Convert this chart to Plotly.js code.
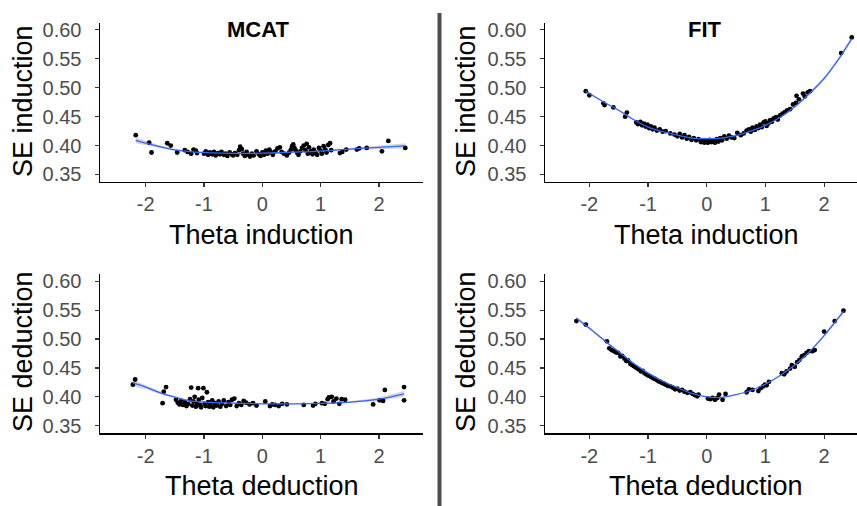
<!DOCTYPE html>
<html>
<head>
<meta charset="utf-8">
<script src="https://cdn.plot.ly/plotly-3.0.1.min.js"></script>
<style>html,body{margin:0;padding:0;background:#fff;}#chart{width:857px;height:506px;}</style>
</head>
<body>
<div id="chart"></div>
<script>
// ---------- Data ----------
const panelTitles = ["MCAT", "FIT"];
const xTitles = ["Theta induction", "Theta deduction"];
const yTitles = ["SE induction", "SE deduction"];
const xTickVals = [-2, -1, 0, 1, 2];
const xTickText = ["-2", "-1", "0", "1", "2"];
const yTickVals = [0.35, 0.40, 0.45, 0.50, 0.55, 0.60];
const yTickText = ["0.35", "0.40", "0.45", "0.50", "0.55", "0.60"];

// MCAT induction
const mcatIndX = [-2.17,-1.94,-1.90,-1.63,-1.57,-1.46,-1.33,-1.28,-1.22,-1.18,-1.14,-1.12,
 -1.00,-0.97,-0.93,-0.90,-0.86,-0.83,-0.80,-0.76,-0.73,-0.70,-0.66,-0.63,-0.60,-0.56,-0.53,-0.50,-0.47,-0.43,-0.40,-0.38,-0.35,-0.33,-0.30,-0.27,-0.24,-0.21,-0.18,-0.15,-0.10,-0.06,-0.03,0.00,0.03,0.06,0.09,0.12,0.15,0.18,0.22,0.26,0.30,0.33,0.37,0.42,0.46,0.49,0.51,0.53,0.55,0.57,0.60,0.62,0.65,0.68,0.71,0.74,0.76,0.78,0.80,0.83,0.86,0.88,0.91,0.94,0.97,1.00,1.02,1.05,1.08,1.10,1.13,1.16,1.18,
 1.33,1.37,1.44,1.62,1.66,1.79,2.05,2.16,2.45];
const mcatIndY = [0.418,0.405,0.388,0.404,0.400,0.388,0.392,0.389,0.386,0.393,0.391,0.387,
 0.386,0.390,0.384,0.388,0.385,0.389,0.383,0.387,0.385,0.389,0.384,0.386,0.382,0.388,0.385,0.383,0.387,0.384,0.392,0.398,0.394,0.386,0.382,0.389,0.384,0.381,0.386,0.383,0.390,0.385,0.382,0.388,0.384,0.391,0.386,0.393,0.388,0.384,0.390,0.395,0.397,0.389,0.386,0.383,0.388,0.393,0.399,0.402,0.396,0.392,0.387,0.384,0.390,0.396,0.400,0.392,0.403,0.386,0.397,0.390,0.385,0.393,0.388,0.384,0.396,0.391,0.386,0.399,0.393,0.388,0.401,0.404,0.392,
 0.387,0.389,0.393,0.393,0.395,0.396,0.390,0.408,0.396];
const mcatIndFitX = [-2.17,-1.8,-1.5,-1.2,-0.9,-0.5,0,0.5,1.0,1.5,2.0,2.45];
const mcatIndFitY = [0.409,0.399,0.3925,0.389,0.3875,0.3866,0.3868,0.3885,0.3905,0.394,0.397,0.3995];
const mcatIndFitLo = [0.404,0.396,0.3905,0.3878,0.3865,0.3858,0.386,0.3877,0.3895,0.392,0.394,0.395];
const mcatIndFitHi = [0.414,0.402,0.3945,0.3902,0.3885,0.3874,0.3876,0.3893,0.3915,0.396,0.400,0.404];

// FIT induction
const fitIndX = [-2.06,-2.00,-1.76,-1.74,-1.59,-1.39,-1.36,-1.20,-1.17,-1.13,-1.10,-1.07,-1.04,-1.01,-0.98,-0.95,-0.92,-0.89,-0.85,-0.80,-0.75,-0.70,-0.62,-0.55,-0.50,-0.46,-0.42,-0.38,-0.34,-0.30,-0.26,-0.22,-0.18,-0.14,-0.10,-0.07,-0.04,-0.01,0.02,0.05,0.08,0.11,0.14,0.17,0.20,0.23,0.26,0.30,0.34,0.38,0.42,0.47,0.52,0.58,0.63,0.68,0.72,0.75,0.78,0.82,0.85,0.88,0.91,0.94,0.97,1.00,1.02,1.05,1.08,1.11,1.14,1.18,1.21,1.25,1.29,1.33,1.37,1.42,1.47,1.52,1.53,1.57,1.64,1.67,1.72,1.76,2.29,2.47];
const fitIndY = [0.494,0.487,0.473,0.470,0.466,0.450,0.457,0.440,0.437,0.441,0.435,0.438,0.433,0.436,0.430,0.433,0.428,0.431,0.426,0.428,0.424,0.425,0.421,0.419,0.416,0.420,0.414,0.418,0.412,0.415,0.410,0.413,0.409,0.411,0.406,0.409,0.405,0.408,0.405,0.410,0.406,0.409,0.405,0.411,0.407,0.413,0.409,0.416,0.412,0.417,0.414,0.413,0.422,0.418,0.421,0.426,0.428,0.424,0.431,0.427,0.433,0.430,0.436,0.432,0.440,0.442,0.434,0.438,0.444,0.441,0.447,0.449,0.445,0.452,0.455,0.458,0.461,0.463,0.471,0.474,0.486,0.480,0.490,0.485,0.492,0.494,0.560,0.587];
const fitIndFitX = [-2.06,-2.0,-1.75,-1.5,-1.25,-1.0,-0.75,-0.5,-0.25,0,0.25,0.5,0.75,1.0,1.25,1.5,1.75,2.0,2.25,2.47];
const fitIndFitY = [0.494,0.490,0.475,0.461,0.445,0.432,0.424,0.418,0.413,0.412,0.413,0.417,0.425,0.435,0.449,0.467,0.490,0.516,0.550,0.585];
const fitIndFitLo = [0.492,0.488,0.474,0.460,0.444,0.4315,0.4235,0.4175,0.4126,0.4116,0.4126,0.4166,0.4245,0.4345,0.4485,0.466,0.488,0.514,0.547,0.581];
const fitIndFitHi = [0.496,0.492,0.476,0.462,0.446,0.4325,0.4245,0.4185,0.4134,0.4124,0.4134,0.4174,0.4255,0.4355,0.4495,0.468,0.492,0.518,0.553,0.589];

// MCAT deduction
const mcatDedX = [-2.22,-2.18,-1.71,-1.69,-1.65,
 -1.48,-1.45,-1.42,-1.39,-1.36,-1.33,-1.30,-1.27,-1.24,-1.22,-1.20,-1.18,-1.16,-1.14,-1.12,-1.10,-1.09,-1.07,-1.05,-1.03,-1.01,-0.99,-0.97,-0.95,-0.93,-0.91,-0.89,-0.86,-0.84,-0.81,-0.78,-0.75,-0.72,-0.69,-0.66,-0.62,-0.58,-0.55,-0.52,-0.48,-0.44,-0.40,-0.36,-0.32,-0.28,-0.22,-0.16,-0.10,
 0.05,0.13,0.17,0.22,0.28,0.34,0.42,0.71,0.87,0.91,1.02,1.07,1.12,1.14,1.19,1.22,1.27,1.32,1.36,1.42,1.90,2.01,2.07,2.10,2.43,2.43];
const mcatDedY = [0.421,0.430,0.389,0.409,0.417,
 0.395,0.390,0.387,0.393,0.386,0.391,0.384,0.388,0.396,0.416,0.385,0.392,0.400,0.383,0.389,0.415,0.395,0.386,0.382,0.398,0.415,0.388,0.384,0.408,0.391,0.383,0.387,0.394,0.382,0.389,0.385,0.392,0.383,0.388,0.394,0.384,0.391,0.386,0.395,0.397,0.384,0.389,0.386,0.393,0.390,0.387,0.389,0.385,
 0.392,0.384,0.387,0.386,0.384,0.388,0.387,0.386,0.385,0.388,0.389,0.388,0.396,0.399,0.400,0.392,0.397,0.388,0.396,0.395,0.387,0.394,0.393,0.412,0.417,0.394];
const mcatDedFitX = [-2.22,-2.0,-1.75,-1.5,-1.25,-1.0,-0.5,0,0.5,1.0,1.5,2.0,2.43];
const mcatDedFitY = [0.424,0.417,0.407,0.3995,0.393,0.391,0.389,0.388,0.388,0.3887,0.391,0.396,0.405];
const mcatDedFitLo = [0.418,0.413,0.4045,0.398,0.392,0.3902,0.3882,0.3872,0.3871,0.3877,0.3895,0.393,0.400];
const mcatDedFitHi = [0.430,0.421,0.4095,0.401,0.394,0.3918,0.3898,0.3888,0.3889,0.3897,0.3925,0.399,0.410];

// FIT deduction
const fitDedX = [-2.22,-2.06,-1.70,-1.66,-1.62,-1.58,-1.55,-1.51,-1.47,-1.44,-1.40,-1.37,-1.34,-1.30,-1.27,-1.24,-1.21,-1.18,-1.15,-1.12,-1.09,-1.06,-1.03,-1.00,-0.97,-0.94,-0.91,-0.88,-0.85,-0.82,-0.79,-0.76,-0.73,-0.70,-0.66,-0.62,-0.58,-0.54,-0.50,-0.46,-0.42,-0.38,-0.33,-0.28,-0.24,-0.20,-0.16,-0.14,0.02,0.06,0.10,0.14,0.18,0.21,0.27,0.32,0.68,0.72,0.78,0.88,0.92,0.96,0.99,1.02,1.06,1.28,1.32,1.36,1.42,1.45,1.50,1.54,1.58,1.62,1.66,1.70,1.74,1.80,1.84,2.00,2.18,2.33];
const fitDedY = [0.531,0.525,0.496,0.484,0.481,0.479,0.477,0.476,0.470,0.471,0.466,0.462,0.463,0.457,0.455,0.453,0.451,0.449,0.447,0.444,0.445,0.441,0.439,0.437,0.436,0.434,0.432,0.431,0.429,0.427,0.426,0.424,0.423,0.421,0.419,0.418,0.416,0.413,0.414,0.411,0.412,0.409,0.407,0.408,0.405,0.403,0.401,0.404,0.397,0.396,0.398,0.395,0.398,0.404,0.395,0.405,0.408,0.413,0.412,0.410,0.415,0.418,0.421,0.420,0.426,0.441,0.439,0.444,0.449,0.455,0.452,0.460,0.464,0.470,0.472,0.476,0.479,0.479,0.481,0.513,0.531,0.549];
const fitDedFitX = [-2.22,-2.0,-1.75,-1.5,-1.25,-1.0,-0.75,-0.5,-0.25,0,0.25,0.5,0.75,1.0,1.25,1.5,1.75,2.0,2.2,2.33];
const fitDedFitY = [0.536,0.519,0.498,0.478,0.458,0.441,0.427,0.416,0.406,0.400,0.399,0.404,0.411,0.422,0.437,0.455,0.478,0.506,0.531,0.548];
const fitDedFitLo = [0.533,0.517,0.497,0.477,0.457,0.4405,0.4265,0.4155,0.4055,0.3995,0.3984,0.4034,0.4104,0.4214,0.4364,0.454,0.476,0.504,0.528,0.544];
const fitDedFitHi = [0.539,0.521,0.499,0.479,0.459,0.4415,0.4275,0.4165,0.4065,0.4005,0.3996,0.4046,0.4116,0.4226,0.4376,0.456,0.480,0.508,0.534,0.552];

// ---------- Build ----------
const panels = [
  {xa:'x',  ya:'y',  px:mcatIndX, py:mcatIndY, fx:mcatIndFitX, fy:mcatIndFitY, lo:mcatIndFitLo, hi:mcatIndFitHi},
  {xa:'x2', ya:'y2', px:fitIndX,  py:fitIndY,  fx:fitIndFitX,  fy:fitIndFitY,  lo:fitIndFitLo,  hi:fitIndFitHi},
  {xa:'x3', ya:'y3', px:mcatDedX, py:mcatDedY, fx:mcatDedFitX, fy:mcatDedFitY, lo:mcatDedFitLo, hi:mcatDedFitHi},
  {xa:'x4', ya:'y4', px:fitDedX,  py:fitDedY,  fx:fitDedFitX,  fy:fitDedFitY,  lo:fitDedFitLo,  hi:fitDedFitHi}
];
const traces = [];
panels.forEach(p => {
  traces.push({x: p.fx.concat(p.fx.slice().reverse()), y: p.hi.concat(p.lo.slice().reverse()),
    xaxis:p.xa, yaxis:p.ya, type:'scatter', mode:'lines', fill:'toself',
    fillcolor:'rgba(153,153,153,0.4)', line:{width:0, color:'rgba(0,0,0,0)'}, hoverinfo:'skip', showlegend:false});
  traces.push({x:p.px, y:p.py, xaxis:p.xa, yaxis:p.ya, type:'scatter', mode:'markers',
    marker:{color:'#000', size:4.8}, showlegend:false});
  traces.push({x:p.fx, y:p.fy, xaxis:p.xa, yaxis:p.ya, type:'scatter', mode:'lines',
    line:{color:'#3366FF', width:1.3, shape:'spline'}, showlegend:false});
});

const W = 857, H = 506;
function dx(a,b){return [a/W, b/W];}
function dy(top,bottom){return [1-bottom/H, 1-top/H];}
const tickFont = {family:'Liberation Sans, Arial, sans-serif', size:20, color:'#4D4D4D'};
function xax(dom, range, anchor){
  return {domain:dom, range:range, anchor:anchor, showgrid:false, zeroline:false, showline:true,
    linecolor:'#000', linewidth:1.5, ticks:'outside', ticklen:4, tickwidth:1.1, tickcolor:'#333',
    tickmode:'array', tickvals:xTickVals, ticktext:xTickText, tickfont:tickFont, fixedrange:true,
    ticklabelstandoff:0};
}
function yax(dom, anchor){
  return {domain:dom, range:[0.3375,0.6125], anchor:anchor, showgrid:false, zeroline:false, showline:true,
    linecolor:'#000', linewidth:1.5, ticks:'outside', ticklen:4, tickwidth:1.1, tickcolor:'#333',
    tickmode:'array', tickvals:yTickVals, ticktext:yTickText, tickfont:tickFont, fixedrange:true,
    ticklabelstandoff:9};
}
const xL = dx(100, 422.7), xR = dx(545, 857);
const yT = dy(22.7, 181.7), yB = dy(274, 433);
const rL = [-2.783, 2.749], rR = [-2.755, 2.56];

const titleFont = {family:'Liberation Sans, Arial, sans-serif', size:27, color:'#000'};
function ann(text, x, y, rot, font){
  return {text:text, x:x/W, y:1-y/H, xref:'paper', yref:'paper', showarrow:false,
    xanchor:'center', yanchor:'middle', textangle:rot||0, font:font};
}
const boldFont = {family:'Liberation Sans, Arial, sans-serif', size:22, color:'#000'};
const annotations = [
  ann('<b>'+panelTitles[0]+'</b>', 258, 29, 0, boldFont),
  ann('<b>'+panelTitles[1]+'</b>', 705, 29, 0, boldFont),
  ann(xTitles[0], 261, 235, 0, titleFont),
  ann(xTitles[0], 706, 235, 0, titleFont),
  ann(xTitles[1], 262, 486, 0, titleFont),
  ann(xTitles[1], 706, 486, 0, titleFont),
  ann(yTitles[0], 23, 101, -90, titleFont),
  ann(yTitles[0], 466, 101, -90, titleFont),
  ann(yTitles[1], 23, 352, -90, titleFont),
  ann(yTitles[1], 466, 352, -90, titleFont)
];

const layout = {
  width:W, height:H, margin:{l:0,r:0,t:0,b:0}, paper_bgcolor:'#fff', plot_bgcolor:'#fff',
  showlegend:false,
  xaxis:xax(xL, rL, 'y'), yaxis:yax(yT, 'x'),
  xaxis2:xax(xR, rR, 'y2'), yaxis2:yax(yT, 'x2'),
  xaxis3:xax(xL, rL, 'y3'), yaxis3:yax(yB, 'x3'),
  xaxis4:xax(xR, rR, 'y4'), yaxis4:yax(yB, 'x4'),
  annotations:annotations,
  shapes:[{type:'line', xref:'paper', yref:'paper', x0:439.5/W, x1:439.5/W, y0:0, y1:1-13/H,
    line:{color:'#4D4D4D', width:4}}]
};
Plotly.newPlot('chart', traces, layout, {displayModeBar:false, staticPlot:true});
</script>
</body>
</html>
